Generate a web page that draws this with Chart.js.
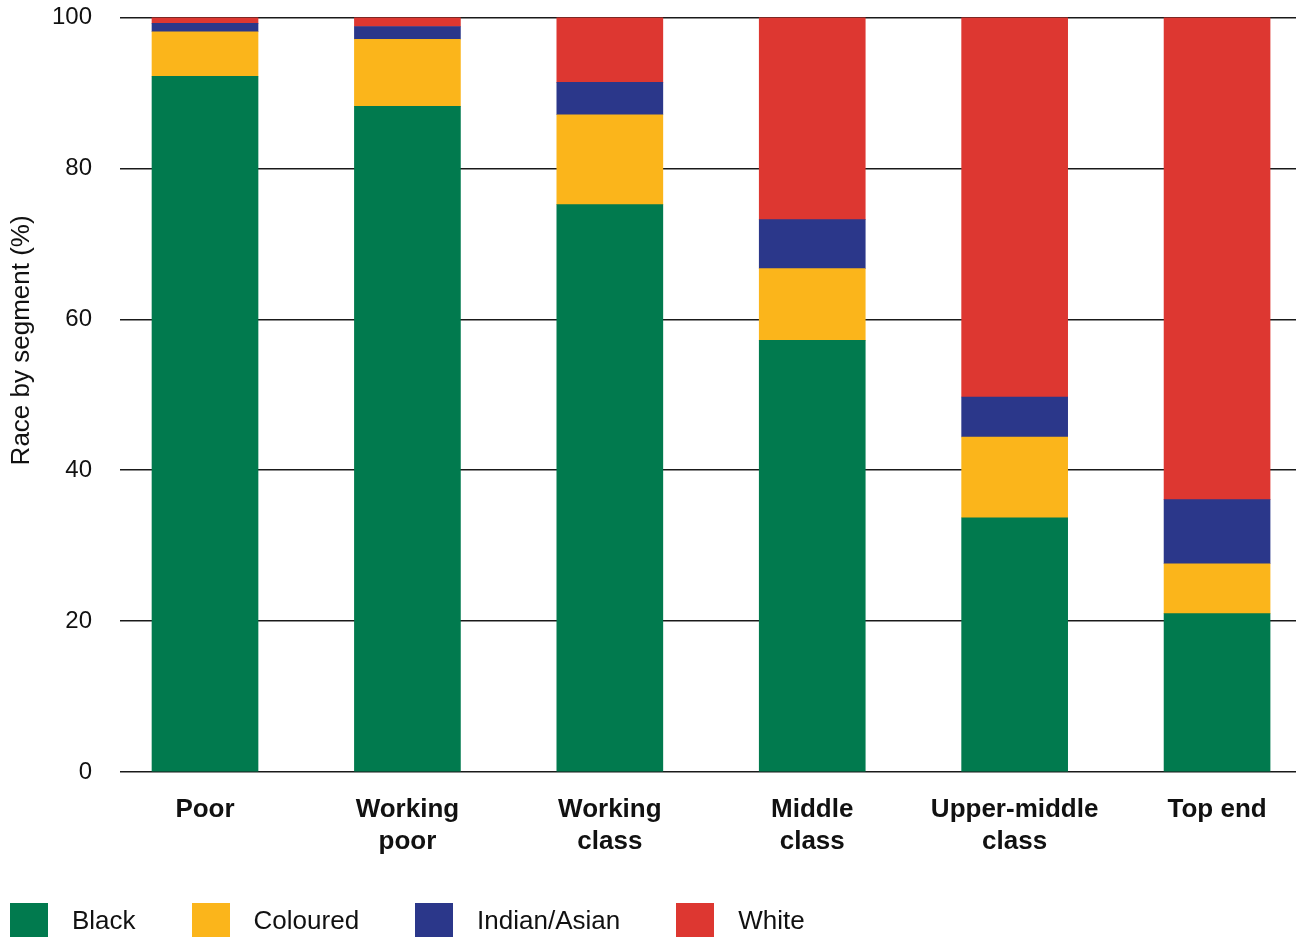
<!DOCTYPE html>
<html>
<head>
<meta charset="utf-8">
<script src="https://cdn.jsdelivr.net/npm/chart.js@4/dist/chart.umd.min.js"></script>
<style>
  html, body { margin: 0; padding: 0; background: #fff; overflow: hidden; }
  #wrap { position: relative; width: 1296px; height: 937px; overflow: hidden; }
  #chartBox { position: absolute; left: 0; top: -25px; width: 1296px; height: 929px; }
  #legend { position: absolute; left: 10px; top: 903px; display: flex; align-items: center;
            font-family: "Liberation Sans", Arial, sans-serif; font-size: 26px; color: #111; }
  .item { display: flex; align-items: center; margin-right: 56px; }
  .swatch { width: 38px; height: 35px; margin-right: 24px; }
</style>
</head>
<body>
<div id="wrap">
  <div id="chartBox"><canvas id="myChart"></canvas></div>
  <div id="legend"></div>
</div>
<script>
const segments = ['Poor', 'Working poor', 'Working class', 'Middle class', 'Upper-middle class', 'Top end']
const tickLabels = [['Poor'], ['Working', 'poor'], ['Working', 'class'], ['Middle', 'class'], ['Upper-middle', 'class'], ['Top end']]
const yTicks = [0, 20, 40, 60, 80, 100]
const yTitle = 'Race by segment (%)'

const black = [92.2, 88.2, 75.2, 57.2, 33.7, 21.0]
const coloured = [5.9, 8.9, 11.9, 9.5, 10.7, 6.6]
const indianAsian = [1.1, 1.7, 4.3, 6.5, 5.3, 8.5]
const white = [0.8, 1.2, 8.6, 26.8, 50.3, 63.9]

const font = '"Liberation Sans", Arial, sans-serif'

// bars sit at index positions on a numeric x axis so the spacing can be tuned
const toPoints = (vals) => vals.map((v, i) => ({ x: i, y: v }))

const series = [
    { label: 'Black', data: black, color: '#017a4e' },
    { label: 'Coloured', data: coloured, color: '#fbb51b' },
    { label: 'Indian/Asian', data: indianAsian, color: '#2b378a' },
    { label: 'White', data: white, color: '#dd3731' }
]

// y title sits a bit above the middle of the axis, so draw it by hand
const yTitlePlugin = {
    id: 'yTitle',
    afterDraw(chart) {
        const c = chart.ctx
        const area = chart.chartArea
        c.save()
        c.translate(22, area.top + (area.bottom - area.top) * 0.428)
        c.rotate(-Math.PI / 2)
        c.font = '26px ' + font
        c.fillStyle = '#111'
        c.textAlign = 'center'
        c.textBaseline = 'middle'
        c.fillText(yTitle, 0, 0)
        c.restore()
    }
}

const ctx = document.getElementById('myChart')

const chart = new Chart(ctx, {
    type: 'bar',
    data: {
        datasets: series.map(s => ({
            label: s.label,
            data: toPoints(s.data),
            backgroundColor: s.color,
            borderWidth: 0,
            barThickness: 106
        }))
    },
    options: {
        responsive: true,
        maintainAspectRatio: false,
        animation: false,
        layout: { padding: { top: 17, left: 2, right: 0, bottom: 24 } },
        plugins: {
            legend: { display: false },
            tooltip: { enabled: false }
        },
        scales: {
            x: {
                type: 'linear',
                stacked: true,
                offset: false,
                min: -0.42,
                max: 5.39,
                grid: { display: false, drawTicks: false, offset: false },
                border: { display: false },
                afterBuildTicks: (scale) => {
                    scale.ticks = segments.map((s, i) => ({ value: i }))
                },
                ticks: {
                    autoSkip: false,
                    maxRotation: 0,
                    padding: 22,
                    color: '#111',
                    font: { family: font, size: 26, weight: 'bold', lineHeight: 1.23 },
                    callback: (value) => tickLabels[value]
                }
            },
            y: {
                stacked: true,
                min: 0,
                max: 100,
                afterBuildTicks: (scale) => {
                    scale.ticks = yTicks.map(v => ({ value: v }))
                },
                afterFit: (scale) => { scale.width = 118 },
                grid: { color: '#1a1a1a', lineWidth: 1.5, drawTicks: false },
                border: { display: false },
                ticks: {
                    padding: 28,
                    color: '#111',
                    font: { family: font, size: 24 }
                }
            }
        }
    },
    plugins: [yTitlePlugin]
})

// legend row built from the datasets
const legend = document.getElementById('legend')
chart.data.datasets.forEach(ds => {
    const item = document.createElement('div')
    item.className = 'item'
    const sw = document.createElement('div')
    sw.className = 'swatch'
    sw.style.background = ds.backgroundColor
    const txt = document.createElement('span')
    txt.textContent = ds.label
    item.appendChild(sw)
    item.appendChild(txt)
    legend.appendChild(item)
})
</script>
</body>
</html>
